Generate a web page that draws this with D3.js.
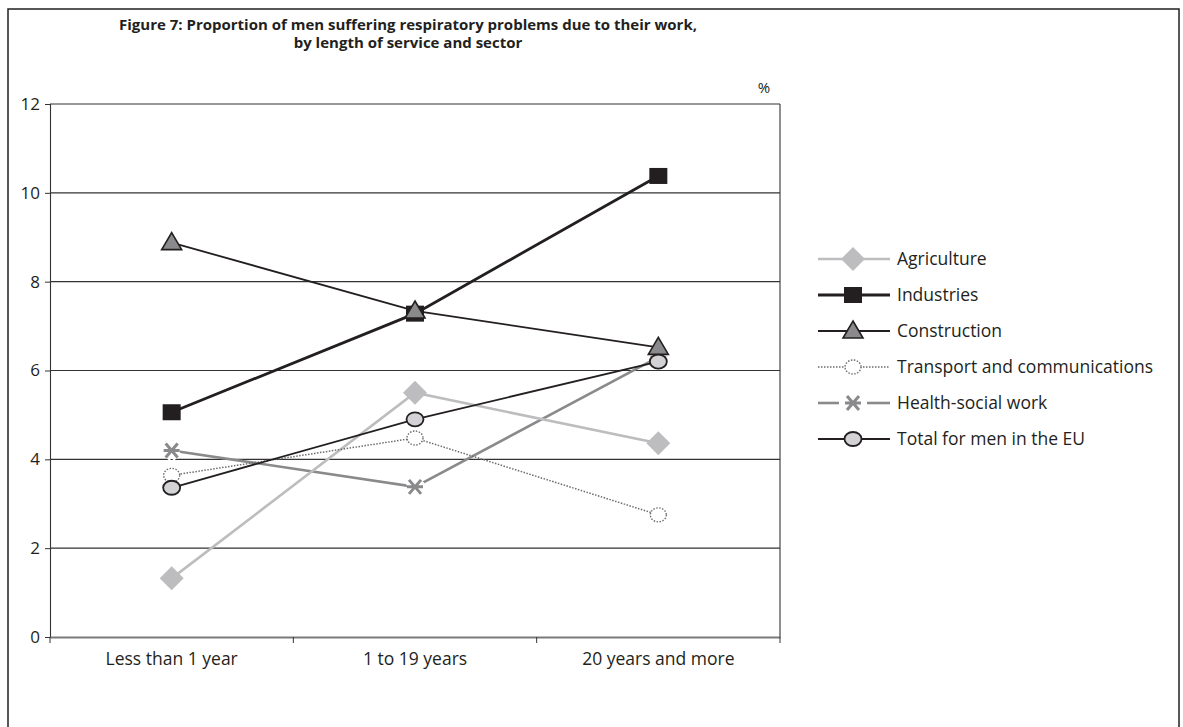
<!DOCTYPE html>
<html>
<head>
<meta charset="utf-8">
<script src="https://cdn.jsdelivr.net/npm/d3@7"></script>
<style>
  html, body { margin: 0; padding: 0; background: #fff; }
  svg { display: block; }
</style>
</head>
<body>
<svg id="chart" width="1183" height="727"></svg>
<script>
// Categories (length of service)
const categories = ["Less than 1 year", "1 to 19 years", "20 years and more"];

// Values in % per sector
const agriculture = [1.32, 5.5, 4.36];
const industries = [5.06, 7.28, 10.38];
const construction = [8.88, 7.34, 6.52];
const transport = [3.64, 4.48, 2.75];
const healthSocial = [4.2, 3.38, 6.3];
const totalEU = [3.36, 4.9, 6.2];

const seriesNames = ["Agriculture", "Industries", "Construction",
  "Transport and communications", "Health-social work", "Total for men in the EU"];

const yTicks = [0, 2, 4, 6, 8, 10, 12];

const titleLines = [
  "Figure 7: Proportion of men suffering respiratory problems due to their work,",
  "by length of service and sector"
];

const FONT = "'Open Sans', 'Liberation Sans', sans-serif";
const INK = "#231f20";

const svg = d3.select("#chart");

// outer frame
svg.append("rect")
  .attr("x", 8).attr("y", 9).attr("width", 1171).attr("height", 740)
  .attr("fill", "none").attr("stroke", INK).attr("stroke-width", 1.5);

const plot = { left: 50, right: 780, top: 104, bottom: 637 };

const x = d3.scaleBand().domain(categories).range([plot.left, plot.right]);
const y = d3.scaleLinear().domain([0, 12]).range([plot.bottom, plot.top]);

// title
svg.append("g").selectAll("text").data(titleLines).join("text")
  .attr("x", 408).attr("y", (d, i) => 30 + i * 18)
  .attr("text-anchor", "middle")
  .attr("font-family", FONT).attr("font-weight", "bold").attr("font-size", 15)
  .attr("fill", INK)
  .text(d => d);

svg.append("text").attr("x", 764).attr("y", 93)
  .attr("text-anchor", "middle").attr("font-family", FONT).attr("font-size", 15)
  .attr("fill", INK).text("%");

// gridlines
svg.append("g").selectAll("line").data(yTicks.filter(t => t > 0)).join("line")
  .attr("x1", plot.left).attr("x2", plot.right)
  .attr("y1", d => y(d)).attr("y2", d => y(d))
  .attr("stroke", "#333").attr("stroke-width", 1.1);

// plot right border
svg.append("line").attr("x1", plot.right).attr("x2", plot.right)
  .attr("y1", plot.top).attr("y2", plot.bottom)
  .attr("stroke", "#333").attr("stroke-width", 1.1);

// y axis
const yAxis = svg.append("g").attr("transform", `translate(${plot.left},0)`)
  .call(d3.axisLeft(y).tickValues(yTicks).tickSize(5).tickPadding(5).tickFormat(d3.format("d")));
yAxis.select(".domain").attr("stroke", "#333").attr("stroke-width", 1.1);
yAxis.selectAll(".tick line").attr("stroke", "#333");
yAxis.selectAll(".tick text").attr("font-size", 17).attr("fill", INK)
  .attr("font-family", FONT);

// x axis
const xAxis = svg.append("g").attr("transform", `translate(0,${plot.bottom})`)
  .call(d3.axisBottom(x).tickSize(0).tickPadding(16));
xAxis.select(".domain").attr("stroke", "#7a7a7a").attr("stroke-width", 2);
xAxis.selectAll(".tick text").attr("font-size", 17.5).attr("fill", INK)
  .attr("font-family", FONT);
// boundary ticks between categories
const bounds = categories.map(c => x(c)).concat([plot.right]);
svg.append("g").selectAll("line").data(bounds).join("line")
  .attr("x1", d => d).attr("x2", d => d)
  .attr("y1", plot.bottom).attr("y2", plot.bottom + 6)
  .attr("stroke", "#333").attr("stroke-width", 1);

const cx = c => x(c) + x.bandwidth() / 2;

// marker painters
const markers = {
  diamond: g => g.append("path").attr("d", "M0,-12L12,0L0,12L-12,0Z")
    .attr("fill", "#bdbdbf"),
  square: g => g.append("rect").attr("x", -9).attr("y", -8).attr("width", 18).attr("height", 16)
    .attr("fill", INK),
  triangle: g => g.append("path").attr("d", "M0,-10L10,7L-10,7Z")
    .attr("fill", "#8a8a8c").attr("stroke", INK).attr("stroke-width", 1.6),
  dotcircle: g => g.append("ellipse").attr("rx", 8).attr("ry", 7)
    .attr("fill", "#fff").attr("stroke", "#6d6d6d").attr("stroke-width", 1.4)
    .attr("stroke-dasharray", "1.5,1.5"),
  asterisk: g => {
    const star = "M-6,-7L6,7M-6,7L6,-7M-8,0L8,0";
    g.append("path").attr("d", star).attr("stroke", "#fff").attr("stroke-width", 10);
    g.append("path").attr("d", star).attr("stroke", "#8a8a8c").attr("stroke-width", 3);
  },
  circle: g => g.append("ellipse").attr("rx", 8.5).attr("ry", 7)
    .attr("fill", "#d3d3d5").attr("stroke", INK).attr("stroke-width", 1.8)
};

const series = [
  { name: seriesNames[4], values: healthSocial, color: "#8a8a8c", width: 2.6, dash: null, marker: "asterisk" },
  { name: seriesNames[0], values: agriculture, color: "#bdbdbf", width: 2.6, dash: null, marker: "diamond" },
  { name: seriesNames[3], values: transport, color: "#6d6d6d", width: 1.5, dash: "1.5,1.5", marker: "dotcircle" },
  { name: seriesNames[1], values: industries, color: INK, width: 2.8, dash: null, marker: "square" },
  { name: seriesNames[2], values: construction, color: INK, width: 1.8, dash: null, marker: "triangle" },
  { name: seriesNames[5], values: totalEU, color: INK, width: 1.8, dash: null, marker: "circle" }
];

const line = d3.line().x(d => cx(d.c)).y(d => y(d.v));

series.forEach(s => {
  const pts = categories.map((c, i) => ({ c, v: s.values[i] }));
  svg.append("path").datum(pts).attr("d", line)
    .attr("fill", "none").attr("stroke", s.color).attr("stroke-width", s.width)
    .attr("stroke-dasharray", s.dash);
  pts.forEach(p => {
    const g = svg.append("g").attr("transform", `translate(${cx(p.c)},${y(p.v)})`);
    markers[s.marker](g);
  });
});

// legend
const legendOrder = [1, 3, 4, 2, 0, 5].map(i => series[i]);
const leg = svg.append("g");
legendOrder.forEach((s, i) => {
  const ly = 259 + i * 36;
  if (s.marker === "asterisk") {
    leg.append("line").attr("x1", 818).attr("x2", 839).attr("y1", ly).attr("y2", ly)
      .attr("stroke", s.color).attr("stroke-width", s.width);
    leg.append("line").attr("x1", 867).attr("x2", 890).attr("y1", ly).attr("y2", ly)
      .attr("stroke", s.color).attr("stroke-width", s.width);
  } else {
    leg.append("line").attr("x1", 818).attr("x2", 890).attr("y1", ly).attr("y2", ly)
      .attr("stroke", s.color).attr("stroke-width", s.width).attr("stroke-dasharray", s.dash);
  }
  const g = leg.append("g").attr("transform", `translate(853,${ly})`);
  markers[s.marker](g);
  leg.append("text").attr("x", 897).attr("y", ly + 6)
    .attr("font-family", FONT).attr("font-size", 17.5).attr("fill", INK).text(s.name);
});
</script>
</body>
</html>
